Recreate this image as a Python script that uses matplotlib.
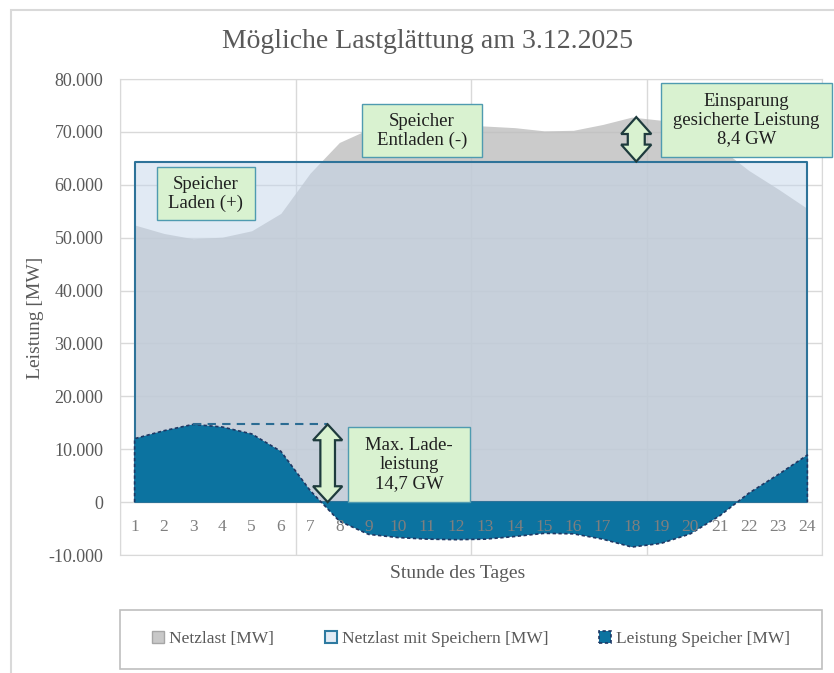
import matplotlib
matplotlib.use("Agg")
import matplotlib.pyplot as plt
from matplotlib.patches import Rectangle, Polygon, Patch

plt.rcParams['font.family'] = ['Liberation Serif', 'DejaVu Serif']

# data
hours = list(range(1, 25))
netzlast = [52400, 50800, 49800, 50100, 51300, 54600, 62200, 68000, 70500, 71000,
            71300, 71400, 71100, 70800, 70200, 70300, 71400, 72800, 72200, 70400,
            67000, 62700, 59200, 55500]
netzlast_speicher = [64400] * 24
speicher = [12000, 13500, 14700, 14200, 12900, 9600, 2200, -3600, -6100, -6700,
            -7000, -7100, -7000, -6500, -5900, -6000, -7000, -8500, -7800, -6000,
            -2600, 1700, 5200, 8900]
y_ticks = list(range(-10000, 80001, 10000))
legend_labels = ["Netzlast [MW]", "Netzlast mit Speichern [MW]", "Leistung Speicher [MW]"]

W, H = 834, 673
fig = plt.figure(figsize=(W / 100, H / 100), dpi=100)
ax = fig.add_axes([120 / W, 1 - 555 / H, 702 / W, 476 / H])

# areas
ax.fill_between(hours, 0, netzlast, color='#bebebe', alpha=0.8, lw=0, zorder=2)
ax.fill_between(hours, 0, netzlast_speicher, facecolor=(0.77, 0.84, 0.92, 0.5),
                edgecolor='#2e7399', lw=1.5, zorder=3)
ax.fill_between(hours, 0, speicher, facecolor='#0c73a0', lw=0, zorder=4)
# dashed outline of the storage area (without the zero baseline)
ax.plot([hours[0]] + hours + [hours[-1]], [0] + speicher + [0], color='#1f3864',
        lw=1.2, linestyle=(0, (2, 1.5)), zorder=4.5)

ax.set_xlim(0.5, 24.5)
ax.set_ylim(-10000, 80000)
ax.set_yticks(y_ticks)
ax.set_yticklabels([f"{v:,.0f}".replace(",", ".") for v in y_ticks])
ax.set_xticks([0.5, 6.5, 12.5, 18.5, 24.5])
ax.set_xticklabels([])
ax.set_axisbelow(True)
ax.grid(True, color='#d9d9d9', lw=1)
ax.tick_params(axis='y', length=0, pad=12, labelsize=13, labelcolor='#595959')
ax.tick_params(axis='x', length=0)
for s in ax.spines.values():
    s.set_color('#d9d9d9')

# category labels sit next to the zero line, over the areas
for h in hours:
    ax.annotate(str(h), (h, 0), xytext=(0, -18), textcoords='offset points',
                ha='center', va='center', fontsize=12.5, color='#7f7f7f', zorder=6)

# max charge marker
peak_h = hours[speicher.index(max(speicher))]
arrow_x = 7.6
ax.plot([peak_h, arrow_x], [max(speicher)] * 2, color='#2b6c93', lw=1.5,
        linestyle=(0, (4, 3)), zorder=5)


def double_arrow(x, y0, y1, shaft, head, head_len):
    pts = [(x, y1), (x + head / 2, y1 - head_len), (x + shaft / 2, y1 - head_len),
           (x + shaft / 2, y0 + head_len), (x + head / 2, y0 + head_len), (x, y0),
           (x - head / 2, y0 + head_len), (x - shaft / 2, y0 + head_len),
           (x - shaft / 2, y1 - head_len), (x - head / 2, y1 - head_len)]
    ax.add_patch(Polygon(pts, closed=True, fc='#d9f2d0', ec='#1e3b3d', lw=1.6,
                         zorder=7, clip_on=False, joinstyle='miter'))


double_arrow(arrow_x, 0, max(speicher), 0.5, 1.0, 3000)
double_arrow(18.15, netzlast_speicher[0], max(netzlast), 0.58, 1.03, 3200)


def note(x0, x1, y0, y1, txt):
    ax.add_patch(Rectangle((x0, y0), x1 - x0, y1 - y0, fc='#d9f2d0', ec='#4f9bb0',
                           lw=1.0, zorder=8, clip_on=False))
    ax.text((x0 + x1) / 2, (y0 + y1) / 2, txt, ha='center', va='center',
            fontsize=13.5, color='#1f1f1f', linespacing=1.12, zorder=9, clip_on=False)


note(1.75, 5.10, 53300, 63300, "Speicher\nLaden (+)")
note(8.76, 12.89, 65200, 75200, "Speicher\nEntladen (-)")
note(18.98, 24.85, 65200, 79200, "Einsparung\ngesicherte Leistung\n8,4 GW")
note(8.28, 12.48, 0, 14200, "Max. Lade-\nleistung\n14,7 GW")

# titles
fig.text(428 / W, 1 - 42 / H, "Mögliche Lastglättung am 3.12.2025", ha='center',
         va='center', fontsize=20, color='#595959')
fig.text(35 / W, 1 - 318 / H, "Leistung [MW]", rotation=90, ha='center', va='center',
         fontsize=14, color='#595959')
fig.text(458 / W, 1 - 574 / H, "Stunde des Tages", ha='center', va='center',
         fontsize=14, color='#595959')

# legend
handles = [Patch(fc='#c8c8c8', ec='#a6a6a6', lw=1),
           Patch(fc='#e2ebf5', ec='#2e7aa0', lw=1.5),
           Patch(fc='#0c73a0', ec='#1f3864', lw=1.2, linestyle=(0, (2, 1.5)))]
fig.legend(handles, legend_labels, loc='center', bbox_to_anchor=(471 / W, 1 - 639 / H),
           ncol=3, frameon=False, fontsize=12.5, handlelength=0.7, handleheight=0.7,
           handletextpad=0.3, columnspacing=2.9, labelcolor='#595959')
fig.add_artist(Rectangle((120 / W, 1 - 669 / H), 702 / W, 59 / H, transform=fig.transFigure,
                         fill=False, ec='#bfbfbf', lw=1.2))
fig.add_artist(Rectangle((11 / W, -0.1), 1.2, 1 - 10 / H + 0.1, transform=fig.transFigure,
                         fill=False, ec='#d9d9d9', lw=1.5))

fig.savefig("out.png", dpi=100)
